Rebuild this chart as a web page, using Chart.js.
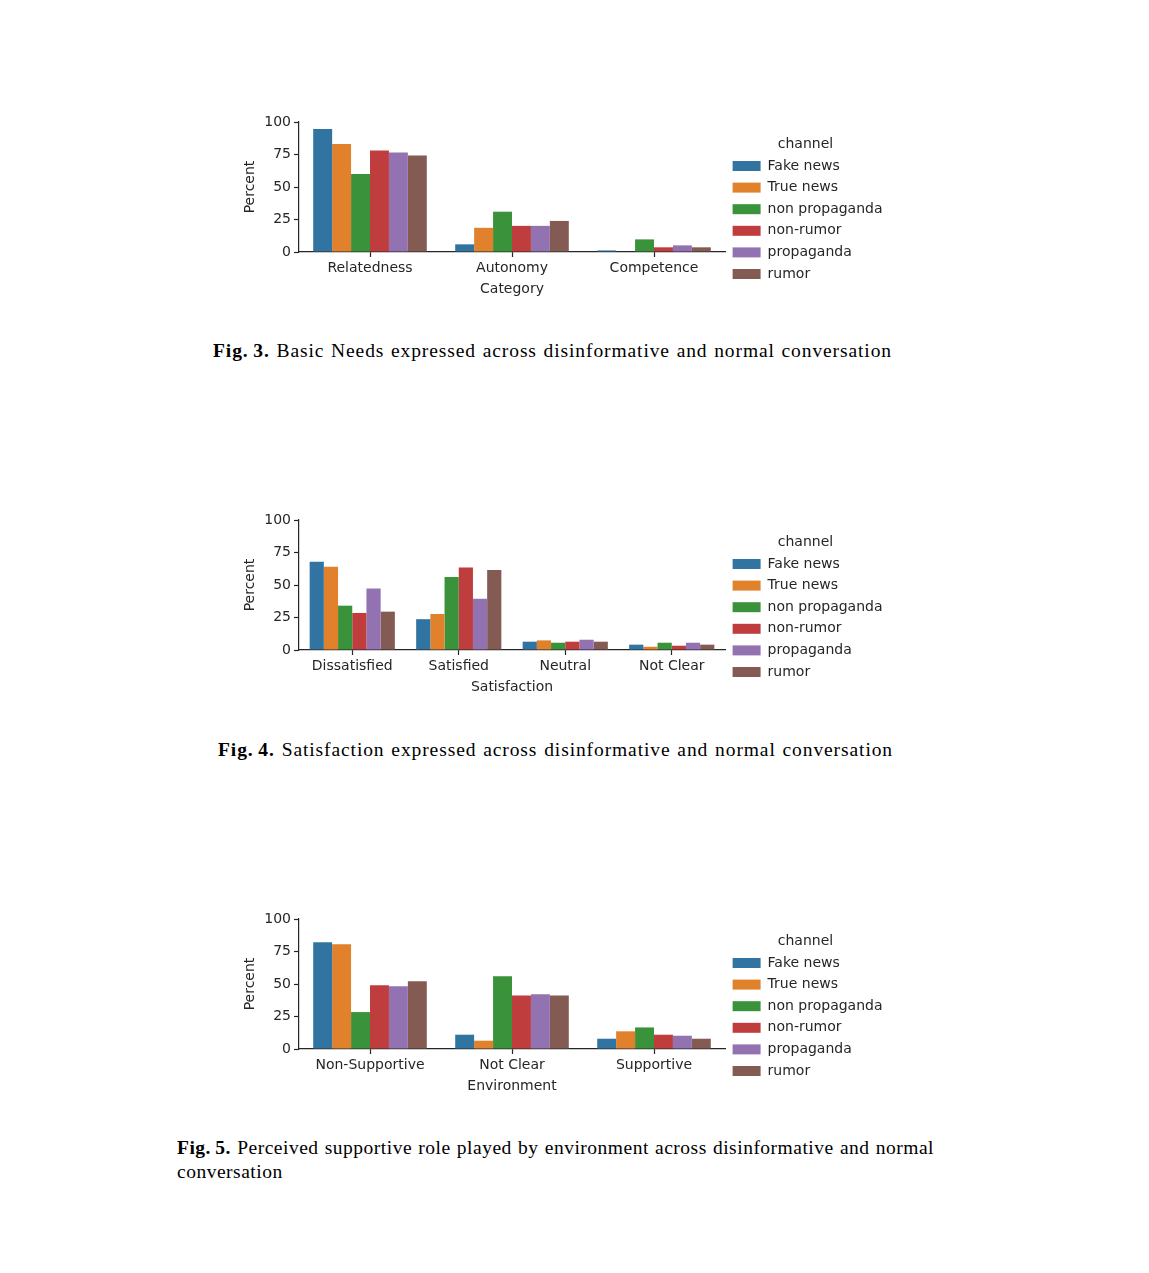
<!DOCTYPE html>
<html>
<head>
<meta charset="utf-8">
<script src="https://cdn.jsdelivr.net/npm/chart.js@4/dist/chart.umd.min.js"></script>
<style>
  body { margin: 0; background: #fff; }
  #page { position: relative; width: 1149px; height: 1273px; background: #fff; }
  .plot { position: absolute; }
  .caption {
    position: absolute;
    font-family: "Liberation Serif", "DejaVu Serif", serif;
    font-size: 19.5px;
    letter-spacing: 0.5px;
    line-height: 24px;
    color: #000;
    text-align: justify;
  }
  .caption.one { text-align-last: justify; letter-spacing: 0.9px; }
</style>
</head>
<body>
<div id="page">
  <div class="plot" style="left:228px; top:100px; width:680px; height:219px;"><canvas id="needsChart"></canvas></div>
  <div class="caption one" style="left:213px; top:339px; width:679px;"><b>Fig.&#8201;3.</b> Basic Needs expressed across disinformative and normal conversation</div>

  <div class="plot" style="left:228px; top:498px; width:680px; height:219px;"><canvas id="satisfactionChart"></canvas></div>
  <div class="caption one" style="left:218px; top:738px; width:675px;"><b>Fig.&#8201;4.</b> Satisfaction expressed across disinformative and normal conversation</div>

  <div class="plot" style="left:228px; top:897px; width:680px; height:219px;"><canvas id="environmentChart"></canvas></div>
  <div class="caption" style="left:177px; top:1136px; width:757px;"><b>Fig.&#8201;5.</b> Perceived supportive role played by environment across disinformative and normal conversation</div>
</div>

<script>
const channels = ["Fake news", "True news", "non propaganda", "non-rumor", "propaganda", "rumor"];
const channelColors = ["#3274a1", "#e1812c", "#3a923a", "#c03d3e", "#9372b2", "#845b53"];
const yTicks = [0, 25, 50, 75, 100];

// Fig. 3 - one row per channel, values in category order
const needsCategories = ["Relatedness", "Autonomy", "Competence"];
const needsValues = [
  [94.7, 5.9, 1.2],
  [83.0, 18.6, 0],
  [60.0, 31.0, 9.7],
  [78.1, 20.1, 3.6],
  [76.6, 20.1, 5.1],
  [74.3, 23.9, 3.6],
];

// Fig. 4
const satisfactionCategories = ["Dissatisfied", "Satisfied", "Neutral", "Not Clear"];
const satisfactionValues = [
  [67.9, 23.7, 6.4, 4.1],
  [64.1, 27.7, 7.4, 2.5],
  [34.1, 56.2, 5.6, 5.6],
  [28.5, 63.4, 6.4, 3.3],
  [47.3, 39.4, 7.9, 5.6],
  [29.5, 61.6, 6.4, 4.1],
];

// Fig. 5
const environmentCategories = ["Non-Supportive", "Not Clear", "Supportive"];
const environmentValues = [
  [82.1, 11.0, 7.9],
  [80.6, 6.4, 13.6],
  [28.4, 56.0, 16.6],
  [49.1, 41.2, 11.0],
  [48.3, 42.2, 10.2],
  [52.2, 41.2, 7.9],
];

const textColor = "#262626";
const font = { family: "DejaVu Sans", size: 14 };

function createGraph(canvasId, categories, values, xTitle) {
  var ctx = document.getElementById(canvasId).getContext("2d");
  var datasets = channels.map((name, i) => ({
    label: name,
    data: values[i],
    backgroundColor: channelColors[i],
    borderWidth: 0,
    categoryPercentage: 0.8,
    barPercentage: 1.0,
  }));

  return new Chart(ctx, {
    type: "bar",
    data: { labels: categories, datasets: datasets },
    options: {
      responsive: true,
      maintainAspectRatio: false,
      animation: false,
      layout: { padding: { top: 22, right: 22, bottom: 21, left: 14 } },
      scales: {
        x: {
          offset: true,
          grid: { display: true, offset: false, drawOnChartArea: false, drawTicks: true, tickLength: 5, color: textColor, tickWidth: 1.2 },
          border: { display: true, color: textColor, width: 1.2 },
          ticks: { color: textColor, font: font, padding: 3, maxRotation: 0 },
          title: { display: true, text: xTitle, color: textColor, font: font, padding: { top: 0, bottom: 0 } },
          afterFit: (axis) => { axis.height = 46; },
        },
        y: {
          min: 0,
          max: 100,
          afterBuildTicks: (axis) => { axis.ticks = yTicks.map((v) => ({ value: v })); },
          grid: { display: true, drawOnChartArea: false, drawTicks: true, tickLength: 5, color: textColor, tickWidth: 1.2 },
          border: { display: true, color: textColor, width: 1.2 },
          ticks: { color: textColor, font: font, padding: 3 },
          title: { display: true, text: "Percent", color: textColor, font: font, padding: { top: 0, bottom: 6 } },
          afterFit: (axis) => { axis.width = 57; },
        },
      },
      plugins: {
        legend: {
          position: "right",
          align: "center",
          title: { display: true, text: "channel", color: textColor, font: { family: "DejaVu Sans", size: 14, lineHeight: 1.0 }, padding: { top: 6, bottom: 0 } },
          labels: { boxWidth: 28, boxHeight: 10, padding: 7.6, color: textColor, font: font },
        },
        tooltip: { enabled: false },
      },
    },
  });
}

createGraph("needsChart", needsCategories, needsValues, "Category");
createGraph("satisfactionChart", satisfactionCategories, satisfactionValues, "Satisfaction");
createGraph("environmentChart", environmentCategories, environmentValues, "Environment");
</script>
</body>
</html>
